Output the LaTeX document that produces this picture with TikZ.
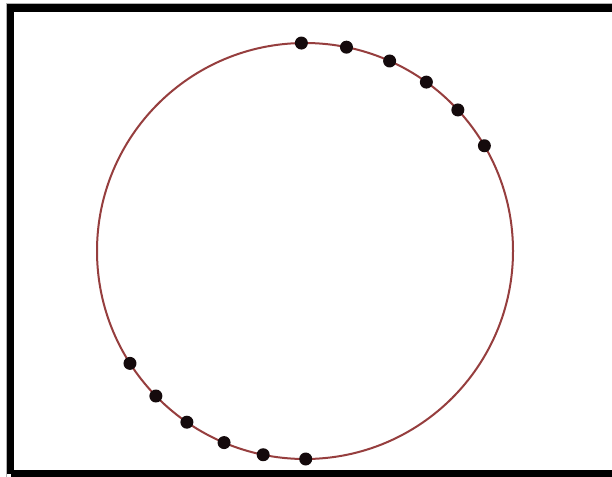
\documentclass[tikz,border=0pt]{standalone}
\definecolor{ringcol}{RGB}{150,62,62}
\definecolor{dotcol}{RGB}{20,10,12}
\tikzset{
  dotnode/.style={circle,fill=dotcol,inner sep=0pt,minimum size=13pt},
  ring/.style={draw=ringcol,line width=2pt},
  frame/.style={draw=black,line width=7.5pt}
}
\begin{document}
\begin{tikzpicture}[x=1pt,y=-1pt]
\useasboundingbox (0,0) rectangle (612,476);
\fill[white] (0,0) rectangle (612,476);
\begin{scope}
\clip (0,0) rectangle (612,476);
\draw[gray!60,line width=1pt] (6,480) -- (6,3.5) -- (620,3.5);
\draw[frame] (10.5,474) -- (10.5,8) -- (625,8);
\draw[frame] (10.5,474) -- (625,474);
\end{scope}
\coordinate (c) at (305,251);
\draw[ring] (c) circle [radius=208pt];
\foreach \a/\n in {91/t1,78.5/t2,66/t3,54.3/t4,42.7/t5,30.4/t6,212.7/b1,224.2/b2,235.4/b3,247.1/b4,258.4/b5,270.2/b6}{
  \node[dotnode] (\n) at ([shift={(c)}] {-\a}:208) {};
}
\end{tikzpicture}
\end{document}
